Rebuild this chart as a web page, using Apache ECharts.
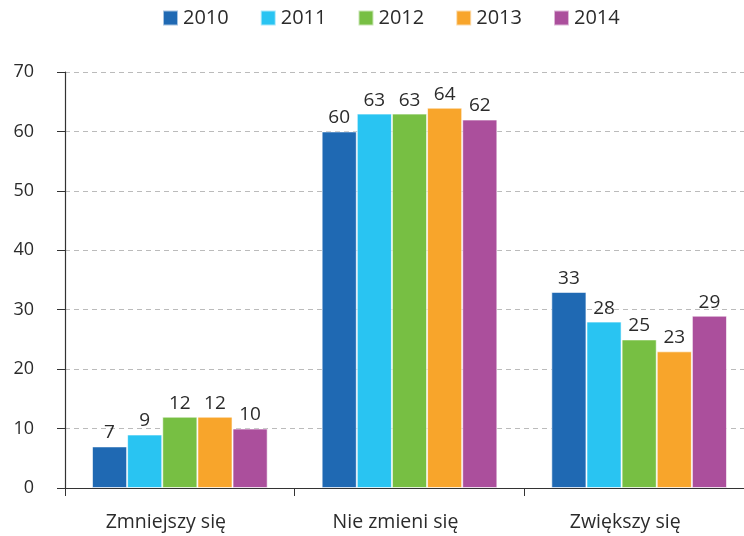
<!DOCTYPE html>
<html><head><meta charset="utf-8">
<script src="https://cdn.jsdelivr.net/npm/echarts@6/dist/echarts.min.js"></script>
<style>html,body{margin:0;padding:0;background:#fff}#c{width:744px;height:536px}</style>
</head><body><div id="c"></div>
<script>
var categories = ["Zmniejszy się", "Nie zmieni się", "Zwiększy się"];
var years = ["2010", "2011", "2012", "2013", "2014"];
var v2010 = [7, 60, 33];
var v2011 = [9, 63, 28];
var v2012 = [12, 63, 25];
var v2013 = [12, 64, 23];
var v2014 = [10, 62, 29];
var colors = ["#1f69b3", "#29c4f2", "#77bf43", "#f8a52b", "#ab4f9c"];
var values = [v2010, v2011, v2012, v2013, v2014];
var font = "Open Sans";
var chart = echarts.init(document.getElementById('c'));
chart.setOption({
  animation: false,
  color: colors,
  textStyle: {fontFamily: font},
  legend: {
    top: 8, left: 162, padding: 0, itemWidth: 15, itemHeight: 15, itemGap: 31,
    icon: 'rect',
    textStyle: {fontSize: 20, color: '#2b2b2b', fontFamily: font}
  },
  grid: {left: 65, width: 689, top: 72, height: 416, containLabel: false, outerBoundsMode: 'none'},
  xAxis: {
    type: 'category', data: categories,
    axisLine: {lineStyle: {color: '#333', width: 1.2}},
    axisTick: {show: true, length: 8, lineStyle: {color: '#333'}},
    axisLabel: {fontSize: 19.5, color: '#2b2b2b', margin: 24, padding: [0, 28, 0, 0], fontFamily: font}
  },
  yAxis: {
    type: 'value', min: 0, max: 70, interval: 10,
    axisLine: {show: true, lineStyle: {color: '#333', width: 1.2}},
    axisTick: {show: true, length: 8, lineStyle: {color: '#333'}},
    axisLabel: {fontSize: 18, color: '#2b2b2b', margin: 31, padding: [6, 0, 0, 0], fontFamily: font},
    splitLine: {lineStyle: {type: [5, 4], color: '#bbbbbb'}}
  },
  series: years.map(function (y, i) {
    return {
      name: y, type: 'bar', data: values[i],
      barGap: '0%', barCategoryGap: '23.5%',
      itemStyle: {color: colors[i], borderColor: 'rgba(255,255,255,0.6)', borderWidth: 1},
      label: {show: true, position: 'top', distance: 4, fontSize: 19, color: '#2b2b2b', fontFamily: font}
    };
  })
});
</script></body></html>
